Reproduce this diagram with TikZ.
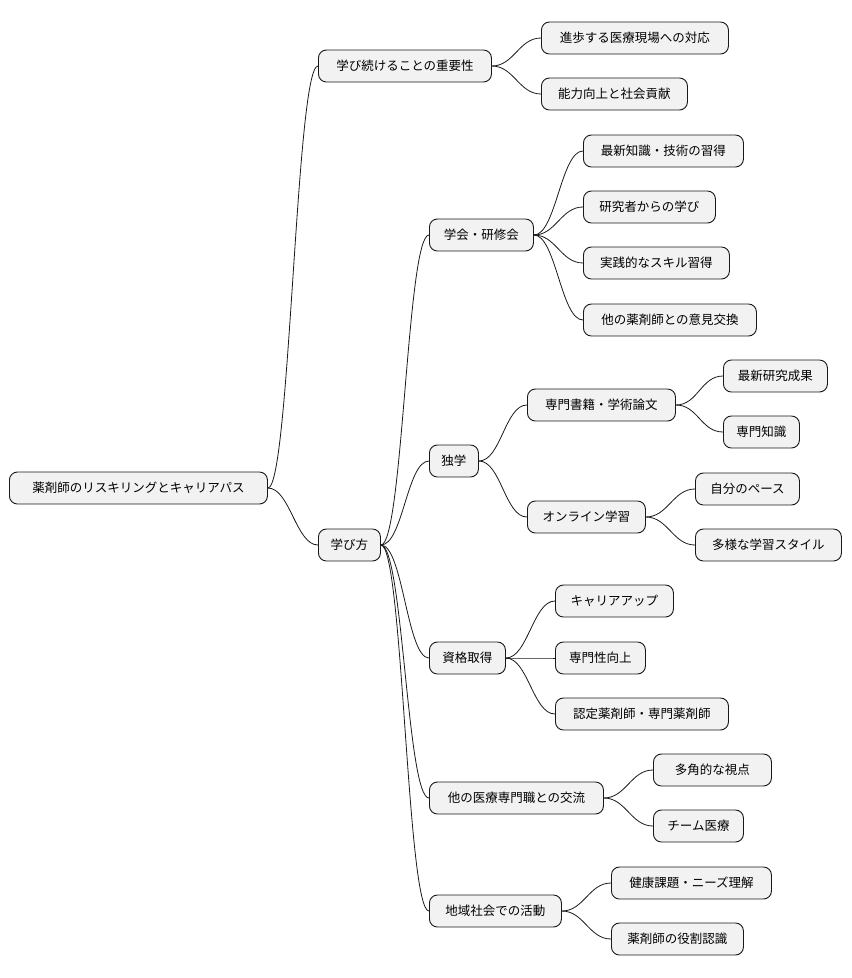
\documentclass[tikz,border=0pt]{standalone}
\usepackage{fontspec}
\setmainfont{Noto Sans CJK JP}
\begin{document}
\begin{tikzpicture}[x=1pt,y=-1pt,
  mm/.style={draw=black!90,fill=black!5,line width=0.9pt,rounded corners=8pt,minimum height=32pt,inner xsep=0pt,anchor=west,font=\fontsize{12.5}{14}\selectfont},
  ln/.style={line width=0.8pt,draw=black!90}]
\useasboundingbox (0,0) rectangle (852,978);
\newcommand\mn[5]{\node[mm,minimum width=#4-#3] (#1) at (#3,#5) {#2};}
\mn{r}{薬剤師のリスキリングとキャリアパス}{9}{267}{488}
\mn{a}{学び続けることの重要性}{318}{491}{66}
\mn{b}{学び方}{318}{380}{545}
\mn{a1}{進歩する医療現場への対応}{541}{728}{38}
\mn{a2}{能力向上と社会貢献}{541}{687}{94}
\mn{c}{学会・研修会}{429}{533}{235}
\mn{c1}{最新知識・技術の習得}{583}{743}{151}
\mn{c2}{研究者からの学び}{583}{715}{207}
\mn{c3}{実践的なスキル習得}{583}{729}{263}
\mn{c4}{他の薬剤師との意見交換}{583}{756}{320}
\mn{d}{独学}{429}{478}{461}
\mn{d1}{専門書籍・学術論文}{527}{675}{405}
\mn{d11}{最新研究成果}{723}{827}{376}
\mn{d12}{専門知識}{723}{799}{432}
\mn{d2}{オンライン学習}{527}{645}{517}
\mn{d21}{自分のペース}{695}{799}{489}
\mn{d22}{多様な学習スタイル}{695}{841}{545}
\mn{e}{資格取得}{429}{505}{658}
\mn{e1}{キャリアアップ}{555}{673}{601}
\mn{e2}{専門性向上}{555}{645}{658}
\mn{e3}{認定薬剤師・専門薬剤師}{555}{728}{714}
\mn{f}{他の医療専門職との交流}{429}{603}{798}
\mn{f1}{多角的な視点}{653}{771}{770}
\mn{f2}{チーム医療}{653}{743}{826}
\mn{g}{地域社会での活動}{429}{561}{911}
\mn{g1}{健康課題・ニーズ理解}{611}{771}{883}
\mn{g2}{薬剤師の役割認識}{611}{743}{939}
\foreach \p/\c in {r/a,r/b,a/a1,a/a2,b/c,b/d,b/e,b/f,b/g,c/c1,c/c2,c/c3,c/c4,d/d1,d/d2,d1/d11,d1/d12,d2/d21,d2/d22,e/e1,e/e2,e/e3,f/f1,f/f2,g/g1,g/g2}
  \draw[ln] (\p.east) .. controls ([xshift=22pt]\p.east) and ([xshift=-22pt]\c.west) .. (\c.west);
\end{tikzpicture}
\end{document}
